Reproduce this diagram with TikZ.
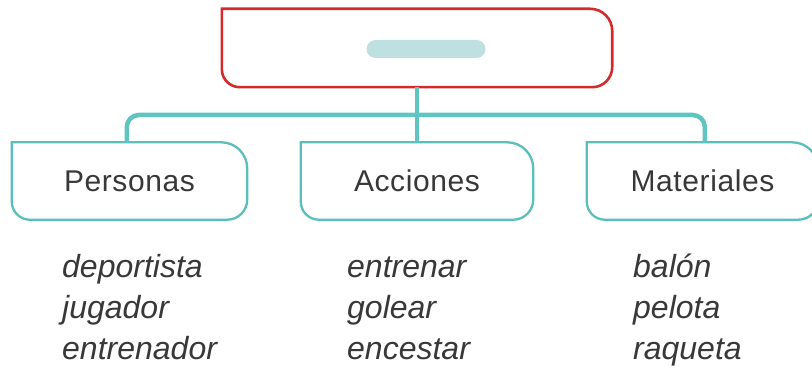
\documentclass[tikz,border=0pt]{standalone}
\usepackage{fontspec}
\setmainfont{Liberation Sans}
\newfontfamily\headfont[LetterSpace=2]{Liberation Sans}
\definecolor{redline}{HTML}{D42A2B}
\definecolor{tealline}{HTML}{5EC5C1}
\definecolor{tealbox}{HTML}{58BFBA}
\definecolor{pillc}{HTML}{BFE0E1}
\definecolor{txt}{HTML}{383838}
\tikzset{
  boxnode/.style={minimum width=#1, minimum height=77pt, inner sep=0pt,
    font=\headfont\fontsize{30}{34}\selectfont, text=txt},
  wordnode/.style={anchor=base west, inner sep=0pt,
    font=\itshape\fontsize{32}{38}\selectfont, text=txt},
  conn/.style={draw=tealline, line width=4.5pt},
  tealoutline/.style={draw=tealbox, line width=2.3pt},
  redoutline/.style={draw=redline, line width=2.6pt},
}
\newcommand{\mybox}[5]{% node, style, r top-right, r bottom-right, r bottom-left
  \draw[#2] (#1.north west) -- ([xshift=-#3pt]#1.north east)
    arc[start angle=90, end angle=0, radius=#3pt]
    -- ([yshift=#4pt]#1.south east)
    arc[start angle=0, end angle=-90, radius=#4pt]
    -- ([xshift=#5pt]#1.south west)
    arc[start angle=-90, end angle=-180, radius=#5pt]
    -- cycle;}
\begin{document}
\begin{tikzpicture}[x=1pt,y=1pt]
\useasboundingbox (0,0) rectangle (812,373);
% top box
\node[minimum width=390pt, minimum height=78pt, inner sep=0pt] (top) at (417,325) {};
\mybox{top}{redoutline}{22}{20}{18}
\node[fill=pillc, rounded corners=9pt, minimum width=119pt, minimum height=18pt, inner sep=0pt] (pill) at (426,324) {};
% category boxes
\node[boxnode=235pt] (pers) at (129.5,192) {Personas};
\node[boxnode=232pt] (acc) at (417,192) {Acciones};
\node[boxnode=231pt] (mat) at (702.5,192) {Materiales};
\mybox{pers}{tealoutline}{26}{20}{18}
\mybox{acc}{tealoutline}{26}{20}{18}
\mybox{mat}{tealoutline}{26}{20}{18}
% connectors
\coordinate (bus) at (417,258);
\draw[conn, rounded corners=12pt] ([xshift=115pt]pers.north west) |- (bus) -| ([xshift=118pt]mat.north west);
\draw[conn] (top.south) -- (acc.north);
% word lists
\node[wordnode] (w11) at (62,96) {deportista};
\node[wordnode] (w12) at (62,55) {jugador};
\node[wordnode] (w13) at (62,14) {entrenador};
\node[wordnode] (w21) at (347,96) {entrenar};
\node[wordnode] (w22) at (347,55) {golear};
\node[wordnode] (w23) at (347,14) {encestar};
\node[wordnode] (w31) at (633,96) {balón};
\node[wordnode] (w32) at (633,55) {pelota};
\node[wordnode] (w33) at (633,14) {raqueta};
\end{tikzpicture}
\end{document}
